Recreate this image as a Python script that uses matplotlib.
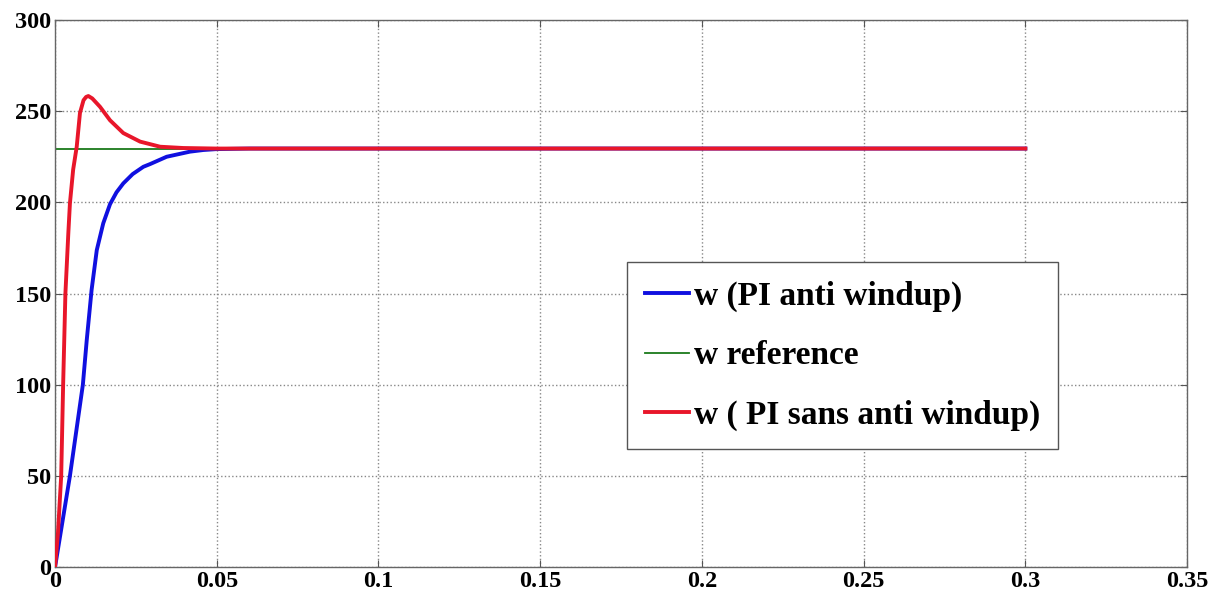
import numpy as np
import matplotlib.pyplot as plt

# temps (s) et vitesse w
t_ref = [0, 0.3]
w_ref = [229.5, 229.5]

t_aw = [0, 0.0046, 0.0086, 0.0098, 0.0113, 0.0129, 0.0149, 0.017, 0.019, 0.0211,
        0.024, 0.0273, 0.0294, 0.0345, 0.0417, 0.0458, 0.05, 0.06, 0.1, 0.2, 0.3]
w_aw = [0, 50, 100, 124.5, 152, 173.8, 188.5, 199, 205.5, 210.4,
        215.5, 219.5, 221, 225, 227.8, 228.7, 229.2, 229.5, 229.5, 229.5, 229.5]

t_sans = [0, 0.0009, 0.0019, 0.0025, 0.0032, 0.0041, 0.0046, 0.0056, 0.0067, 0.0077,
          0.0088, 0.0096, 0.0103, 0.0115, 0.0139, 0.017, 0.0211, 0.0263, 0.0325,
          0.0396, 0.05, 0.1, 0.2, 0.3]
w_sans = [0, 18.6, 50, 100, 150, 183, 199.5, 218, 230.5, 249,
          256, 257.8, 258.3, 257, 252.4, 245, 238, 233.3, 230.5,
          229.8, 229.5, 229.5, 229.5, 229.5]

x_ticks = [0, 0.05, 0.1, 0.15, 0.2, 0.25, 0.3, 0.35]
x_labels = ['0', '0.05', '0.1', '0.15', '0.2', '0.25', '0.3', '0.35']
y_ticks = [0, 50, 100, 150, 200, 250, 300]

plt.rcParams['font.family'] = ['Liberation Serif', 'DejaVu Serif']
plt.rcParams['font.weight'] = 'bold'

fig = plt.figure(figsize=(12.18, 5.99), dpi=100)
ax = fig.add_axes([0.0452, 0.0534, 0.9294, 0.9132])

ax.plot(t_aw, w_aw, color='#1010e0', lw=2.8, label='w (PI anti windup)', zorder=3,
        solid_joinstyle='round')
ax.plot(t_ref, w_ref, color='#1a7a1a', lw=1.3, label='w reference', zorder=2)
ax.plot(t_sans, w_sans, color='#e8162a', lw=2.8, label='w ( PI sans anti windup)',
        zorder=4, solid_joinstyle='round')

ax.set_xlim(0, 0.35)
ax.set_ylim(0, 300)
ax.set_xticks(x_ticks)
ax.set_xticklabels(x_labels)
ax.set_yticks(y_ticks)
ax.tick_params(direction='in', top=True, right=True, labelsize=17.5, length=5,
               color='#555555', pad=3)
for lab in ax.get_xticklabels() + ax.get_yticklabels():
    lab.set_fontweight('bold')
for s in ax.spines.values():
    s.set_color('#666666')
    s.set_linewidth(1.0)
ax.grid(True, linestyle=':', color='#888888', linewidth=1.0)

leg = ax.legend(loc='upper left', bbox_to_anchor=(0.5053, 0.5576),
                prop={'weight': 'bold', 'size': 24}, handlelength=1.3,
                handletextpad=0.15, labelspacing=0.86, borderpad=0.55,
                borderaxespad=0, fancybox=False, framealpha=1, edgecolor='#555555')
leg.get_frame().set_linewidth(1.0)

fig.savefig('out.png', dpi=100)
